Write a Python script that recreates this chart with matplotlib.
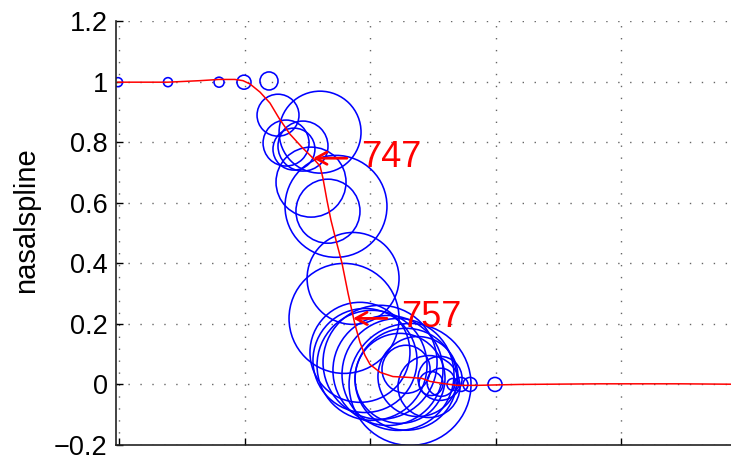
import matplotlib
matplotlib.use('Agg')
import matplotlib.pyplot as plt

plt.rcParams['font.family'] = ['Liberation Sans', 'DejaVu Sans']

# red spline (data units)
spline_x = [-0.08, 3.90, 6.45, 7.97, 9.24, 9.88, 10.44, 11.24, 12.03, 12.75, 13.63, 14.58,
            15.46, 16.02, 16.25, 16.57, 16.89, 17.29, 17.77, 18.25, 18.80, 19.20, 19.60,
            20.00, 20.80, 21.83, 23.19, 24.14, 24.78, 25.82, 26.93, 28.53, 31.95, 38.33,
            44.70, 51.08]
spline_y = [0.998, 0.998, 1.003, 1.007, 1.007, 1.003, 0.992, 0.965, 0.929, 0.879, 0.826, 0.783,
            0.747, 0.721, 0.681, 0.608, 0.542, 0.476, 0.400, 0.301, 0.198, 0.139, 0.096,
            0.066, 0.040, 0.026, 0.023, 0.020, 0.010, 0.003, -0.003, -0.003, 0.0, 0.002,
            0.002, 0.0]

# blue circles: centre and marker diameter (pt)
circ_x = [-0.08, 3.90, 7.97, 9.96, 11.95, 12.67, 13.31, 13.94, 14.66, 16.02, 15.30, 17.29,
          16.65, 18.65, 17.93, 19.20, 19.60, 20.16, 20.80, 21.43, 22.23, 23.19, 22.87, 22.39,
          23.82, 22.87, 24.70, 25.58, 24.86, 25.66, 26.61, 27.25, 27.97, 29.96]
circ_y = [0.998, 0.998, 0.998, 0.998, 1.002, 0.889, 0.797, 0.777, 0.787, 0.833, 0.668, 0.588,
          0.572, 0.350, 0.218, 0.106, 0.079, 0.063, 0.073, 0.046, 0.033, 0.0, 0.017, 0.020,
          0.026, 0.050, -0.007, 0.020, 0.003, 0.007, 0.0, 0.0, 0.0, 0.0]
circ_d = [6.5, 6.5, 7.2, 10.1, 13.0, 30.2, 33.1, 30.2, 36.0, 59.0, 50.4, 73.4,
          46.1, 66.2, 79.2, 72.0, 74.9, 79.2, 82.1, 79.2, 80.6, 87.8, 73.4, 64.8,
          57.6, 34.6, 44.6, 31.7, 17.3, 20.2, 8.6, 10.1, 10.1, 10.1]

labels = ['747', '757']
label_tip_x = [15.46, 18.65]
label_tip_y = [0.747, 0.218]

yticks = [-0.2, 0, 0.2, 0.4, 0.6, 0.8, 1.0, 1.2]
ytick_labels = ['\u22120.2', '0', '0.2', '0.4', '0.6', '0.8', '1', '1.2']
xticks = [0, 10, 20, 30, 40, 50]

fig = plt.figure(figsize=(7.31, 4.55), dpi=100)
ax = fig.add_axes([116 / 731, 10 / 455, 630.5 / 731, 424 / 455])

ax.plot(spline_x, spline_y, color='red', lw=1.1, zorder=3)
ax.scatter(circ_x, circ_y, s=[d ** 2 for d in circ_d], facecolors='none',
           edgecolors='blue', linewidths=1.15, zorder=2)

for lab, tx, ty in zip(labels, label_tip_x, label_tip_y):
    ax.annotate('', xy=(tx, ty), xytext=(tx + 2.7, ty),
                arrowprops=dict(arrowstyle='->,head_length=0.4,head_width=0.22',
                                color='red', lw=2.0, mutation_scale=20,
                                shrinkA=0, shrinkB=0), zorder=4)
    ax.text(tx + 3.8, ty + 0.003, lab, color='red', fontsize=26,
            ha='left', va='center', zorder=4)

ax.set_xlim(-0.24, 50)
ax.set_ylim(-0.2, 1.2)
ax.set_xticks(xticks)
ax.set_xticklabels([])
ax.set_yticks(yticks)
ax.set_yticklabels(ytick_labels)
ax.tick_params(direction='in', length=5, width=1, labelsize=19.5, pad=6)
ax.grid(True, color='#666666', linestyle=(0, (1, 7.6)), lw=1.0)
ax.set_axisbelow(True)

for s in ['top', 'right']:
    ax.spines[s].set_visible(False)
for s in ['left', 'bottom']:
    ax.spines[s].set_linewidth(1.2)
    ax.spines[s].set_color('#222222')

ax.set_ylabel('nasalspline', fontsize=21)
ax.yaxis.set_label_coords(-0.12, 0.53)

fig.savefig('out.png', dpi=100)
